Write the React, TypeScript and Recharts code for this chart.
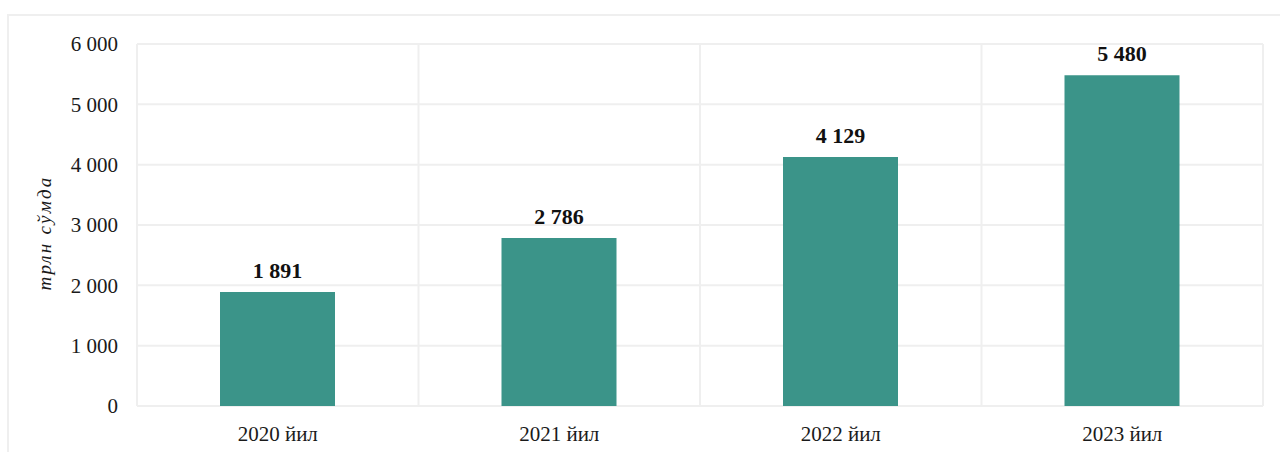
import React from "react";
import { BarChart, Bar, XAxis, YAxis, CartesianGrid, LabelList, Label } from "recharts";

const years = ["2020 йил", "2021 йил", "2022 йил", "2023 йил"];
const volumes = [1891, 2786, 4129, 5480];
const yTicks = [0, 1000, 2000, 3000, 4000, 5000, 6000];
const unitLabel = "трлн сўмда";

const data = years.map((year, i) => ({ year, value: volumes[i] }));

const FONT = "'Liberation Serif', 'Times New Roman', serif";
const GRID = "#efefef";

const fmt = (v: number) => String(v).replace(/\B(?=(\d{3})+(?!\d))/g, " ");

const App = () => {
  return (
    <div
      style={{
        position: "fixed",
        left: 0,
        top: 0,
        width: 1280,
        height: 452,
        overflow: "hidden",
        background: "#fff",
        fontFamily: FONT,
      }}
    >
      <div
        style={{
          position: "absolute",
          left: 7,
          top: 14,
          width: 1320,
          height: 520,
          border: `2px solid ${GRID}`,
        }}
      />
      <BarChart
        width={1280}
        height={452}
        data={data}
        margin={{ top: 44, right: 17, bottom: 16, left: 37 }}
        style={{ position: "absolute", left: 0, top: 0 }}
      >
        <CartesianGrid
          stroke={GRID}
          strokeWidth={2}
          verticalCoordinatesGenerator={({ offset }: any) =>
            years.map((_, i) => offset.left + (offset.width * i) / years.length).concat(offset.left + offset.width)
          }
        />
        <XAxis
          dataKey="year"
          axisLine={false}
          tickLine={false}
          tickSize={0}
          tickMargin={20}
          height={30}
          interval={0}
          tick={{ fill: "#1a1a1a", fontSize: 21, fontFamily: FONT }}
        />
        <YAxis
          domain={[0, 6000]}
          ticks={yTicks}
          axisLine={false}
          tickLine={false}
          tickSize={0}
          tickMargin={19}
          width={100}
          tickFormatter={fmt}
          tick={{ fill: "#1a1a1a", fontSize: 21, fontFamily: FONT }}
        >
          <Label
            content={() => (
              <text
                x={51}
                y={233}
                transform="rotate(-90 51 233)"
                textAnchor="middle"
                fontSize={19}
                letterSpacing={2.2}
                fontStyle="italic"
                fontFamily={FONT}
                fill="#1a1a1a"
              >
                {unitLabel}
              </text>
            )}
          />
        </YAxis>
        <Bar dataKey="value" fill="#3b9489" barSize={115} isAnimationActive={false}>
          <LabelList
            dataKey="value"
            position="top"
            offset={14}
            formatter={(v: any) => fmt(Number(v))}
            style={{ fill: "#111", fontSize: 22, fontWeight: "bold", fontFamily: FONT }}
          />
        </Bar>
      </BarChart>
    </div>
  );
};

export default App;
